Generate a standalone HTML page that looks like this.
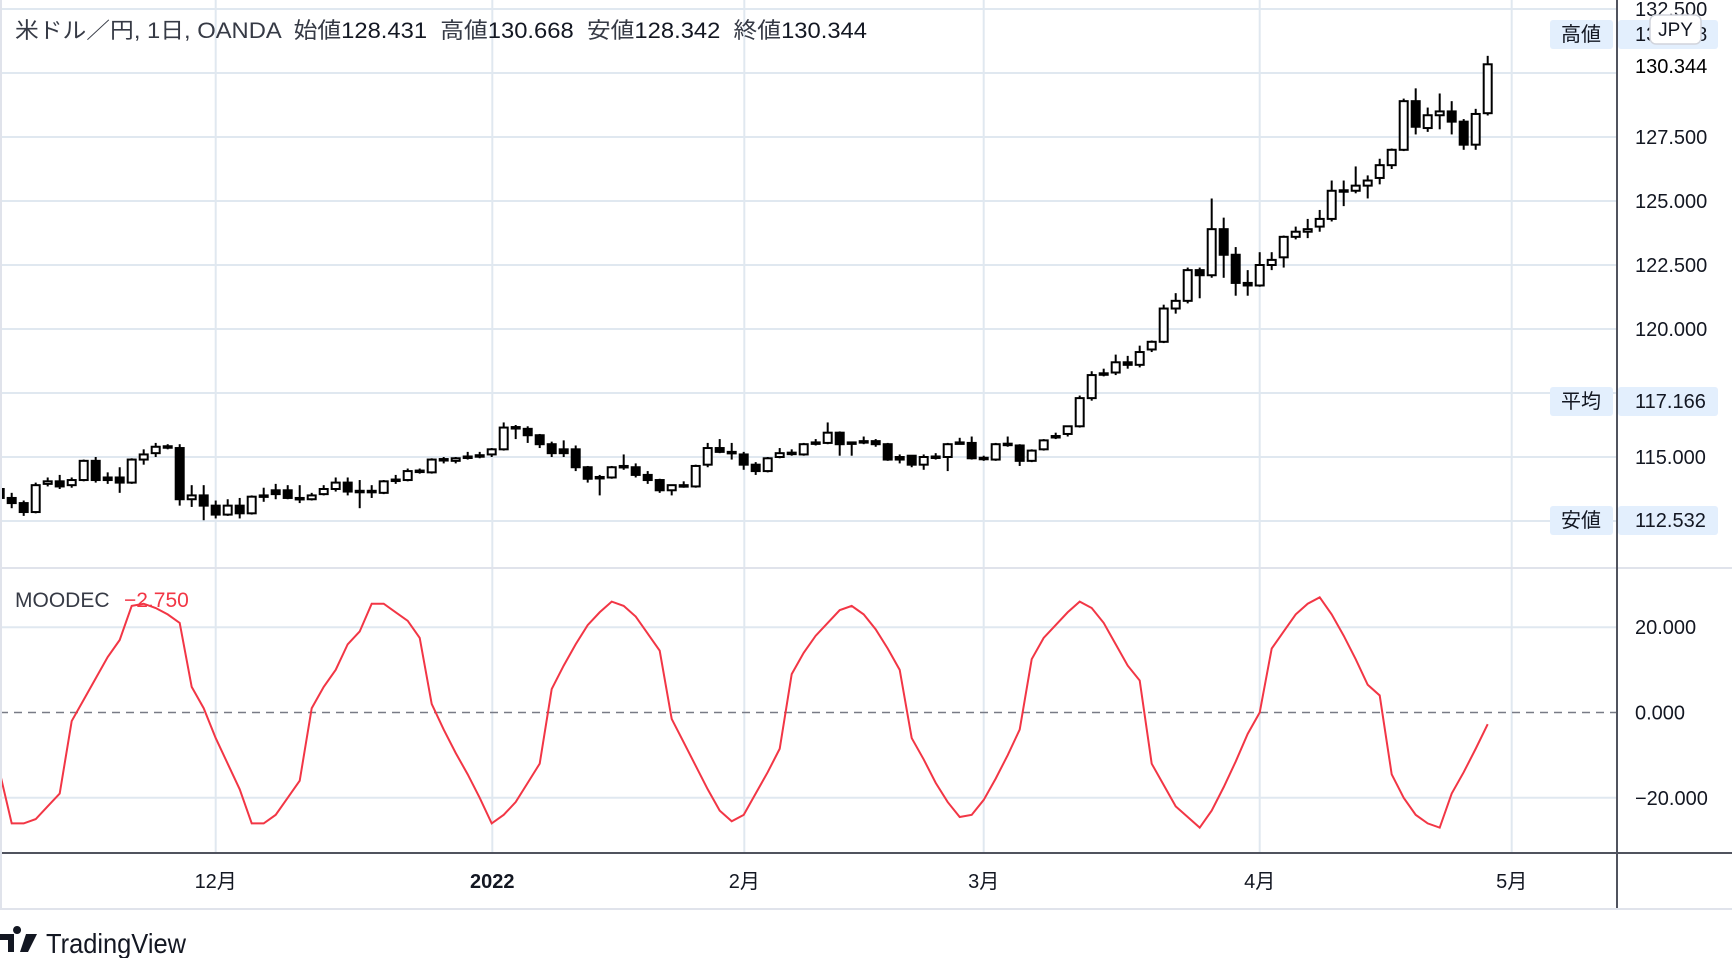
<!DOCTYPE html>
<html><head><meta charset="utf-8"><style>
html,body{margin:0;padding:0;background:#fff;}
svg{display:block;font-family:"Liberation Sans","Noto Sans CJK JP",sans-serif;}
</style></head><body>
<svg id="chart" width="1732" height="958" viewBox="0 0 1732 958" xmlns="http://www.w3.org/2000/svg">
<g id="grid"></g>
<g id="candles"></g>
<g id="ind"></g>
<g id="axes"></g>
<text x="15" y="38" font-size="22" fill="#131722" style="white-space:pre" textLength="852" lengthAdjust="spacingAndGlyphs"><tspan fill="#363a45">米ドル／円, 1日, OANDA  始値</tspan>128.431  <tspan fill="#363a45">高値</tspan>130.668  <tspan fill="#363a45">安値</tspan>128.342  <tspan fill="#363a45">終値</tspan>130.344</text>
<text x="15" y="607" font-size="21" fill="#363a45">MOODEC</text>
<text x="124" y="607" font-size="21" fill="#f23645">−2.750</text>
<g>
<path d="M0 934h14v18h-6v-12H0z M17 934a4 4 0 1 1 0.1 0z M26 934h11l-9 18h-8z" fill="#131722"/>
<text x="46" y="953" font-size="28" fill="#131722" textLength="140" lengthAdjust="spacingAndGlyphs">TradingView</text>
</g>
</svg>
<script>
const opens=[113.75,113.4,113.2,112.85,113.95,114.05,113.9,114.1,114.85,114.2,114.2,114.0,114.9,115.15,115.42,115.35,113.35,113.5,113.1,112.75,113.1,112.8,113.5,113.7,113.7,113.4,113.35,113.55,113.75,114.0,113.68,113.68,113.6,114.12,114.1,114.47,114.4,114.92,114.85,114.97,115.05,115.1,115.3,116.17,116.1,115.85,115.5,115.3,115.3,114.6,114.22,114.2,114.65,114.6,114.3,114.1,113.7,113.9,113.85,114.7,115.35,115.2,115.1,114.7,114.45,115.0,115.17,115.1,115.57,115.55,115.95,115.57,115.62,115.62,115.5,115.0,115.05,114.7,115.02,115.0,115.57,115.55,114.97,114.9,115.52,115.45,114.85,115.3,115.78,115.9,116.2,117.3,118.27,118.3,118.7,118.6,119.2,119.5,120.8,121.1,122.3,122.1,123.9,122.9,121.8,121.7,122.5,122.8,123.6,123.8,124.0,124.3,125.42,125.4,125.6,125.9,126.4,127.0,128.9,127.85,128.35,128.5,128.1,127.2,128.43];
const closes=[113.4,113.2,112.85,113.9,114.05,113.85,114.1,114.85,114.1,114.1,114.0,114.9,115.1,115.4,115.38,113.35,113.5,113.1,112.75,113.1,112.8,113.45,113.45,113.55,113.4,113.35,113.5,113.75,114.0,113.65,113.65,113.62,114.05,114.1,114.45,114.45,114.9,114.9,114.95,115.02,115.07,115.3,116.15,116.15,115.85,115.5,115.15,115.15,114.6,114.15,114.2,114.6,114.62,114.3,114.1,113.7,113.9,113.85,114.65,115.35,115.2,115.15,114.7,114.45,114.95,115.15,115.15,115.5,115.55,115.95,115.5,115.55,115.6,115.5,114.9,114.9,114.7,115.0,115.0,115.5,115.55,114.95,114.95,115.5,115.5,114.85,115.25,115.65,115.82,116.2,117.3,118.2,118.25,118.7,118.6,119.1,119.5,120.8,121.1,122.3,122.1,123.9,122.9,121.8,121.7,122.5,122.7,123.6,123.8,123.9,124.3,125.4,125.4,125.6,125.8,126.4,127.0,128.9,127.9,128.35,128.5,128.1,127.2,128.4,130.34];
const highs=[113.9,113.6,113.3,114.0,114.2,114.3,114.2,114.9,115.0,114.4,114.6,114.95,115.3,115.55,115.5,115.5,113.9,113.9,113.3,113.35,113.4,113.5,113.8,113.95,113.9,113.9,113.6,113.9,114.2,114.2,114.1,113.9,114.1,114.3,114.55,114.55,114.95,115.0,115.0,115.2,115.2,115.35,116.35,116.25,116.2,115.9,115.6,115.65,115.45,114.65,114.3,114.65,115.1,114.75,114.45,114.15,113.9,114.05,114.7,115.55,115.7,115.55,115.2,114.8,115.0,115.35,115.3,115.55,115.7,116.35,116.0,115.6,115.8,115.7,115.55,115.1,115.05,115.1,115.15,115.55,115.75,115.8,115.05,115.55,115.8,115.5,115.3,115.7,115.95,116.2,117.4,118.35,118.45,119.0,118.95,119.35,119.55,120.95,121.4,122.4,122.4,125.1,124.35,123.2,122.3,123.0,123.0,123.65,124.0,124.3,124.65,125.8,125.8,126.35,126.0,126.65,127.05,129.0,129.4,128.65,129.2,128.9,128.2,128.6,130.67];
const lows=[113.3,113.0,112.7,112.8,113.85,113.75,113.8,114.05,114.0,113.95,113.6,113.95,114.7,115.0,115.3,113.1,113.05,112.53,112.6,112.7,112.6,112.75,113.25,113.35,113.35,113.2,113.3,113.5,113.65,113.5,113.0,113.4,113.55,113.95,114.05,114.35,114.35,114.75,114.75,114.9,114.95,115.0,115.25,115.7,115.55,115.35,115.0,115.0,114.45,114.0,113.5,114.15,114.5,114.2,113.95,113.6,113.5,113.8,113.8,114.6,115.15,114.9,114.5,114.3,114.4,114.95,115.05,115.05,115.45,115.5,115.05,115.05,115.5,115.4,114.85,114.75,114.6,114.5,114.9,114.45,115.5,114.9,114.85,114.85,115.4,114.65,114.8,115.25,115.7,115.8,116.15,117.2,118.15,118.2,118.45,118.5,119.1,119.45,120.6,121.0,121.2,122.0,122.0,121.3,121.3,121.65,122.3,122.4,123.5,123.55,123.8,124.2,124.8,125.3,125.1,125.65,126.25,126.95,127.6,127.7,127.8,127.6,127.0,127.0,128.34];
const moodec=[-14,-26,-26,-25,-22,-19,-2,3,8,13,17,25,25.5,24.5,23,21,6,1,-6,-12,-18,-26,-26,-24,-20,-16,1,6,10,16,19,25.5,25.5,23.5,21.5,17.5,2,-4,-9.5,-14.5,-20,-26,-24,-21,-16.5,-12,5.5,11,16,20.5,23.5,26,25,22.5,18.5,14.5,-1.5,-7,-12.5,-18,-23,-25.5,-24,-19,-14,-8.5,9,14,18,21,24,25,23,19.5,15,10,-6,-11,-16.5,-21,-24.5,-24,-20.5,-15.5,-10,-4,12.5,17.5,20.5,23.5,26,24.5,21,16,11,7.5,-12,-17,-22,-24.5,-27,-23,-17.5,-11.5,-5,0,15,19,23,25.5,27,23,18,12.5,6.5,4,-14.5,-20,-24,-26,-27,-19,-14,-8.5,-2.75];
const priceTicks=[132.5,130,127.5,125,122.5,120,117.5,115,112.5];
const priceTickLabels=["132.500","","127.500","125.000","122.500","120.000","","115.000",""];
const indTicks=[20,0,-20];
const indTickLabels=["20.000","0.000","−20.000"];
const monthLabels=["12月","2022","2月","3月","4月","5月"];
const monthBars=[18,41.05,62.05,82.0,105.0,126.0];

const NS="http://www.w3.org/2000/svg";
const AXX=1617, N=opens.length;
const xBar=i=>1487.7-(N-1-i)*12;
const yP=p=>73+(130-p)*25.6;
const yI=v=>712.5-v*4.265;
function mk(tag,attrs,parent){const e=document.createElementNS(NS,tag);for(const k in attrs)e.setAttribute(k,attrs[k]);parent.appendChild(e);return e;}
const grid=document.getElementById('grid'),cg=document.getElementById('candles'),ig=document.getElementById('ind'),ax=document.getElementById('axes');
const GC="#e0e8f0";
priceTicks.forEach(p=>{const l=mk('line',{x1:0,x2:AXX,y1:yP(p),y2:yP(p),stroke:GC,'stroke-width':2},grid);

});
indTicks.forEach((v,k)=>{if(v===0)return;const l=mk('line',{x1:0,x2:AXX,y1:yI(v),y2:yI(v),stroke:GC,'stroke-width':2},grid);

});
monthBars.forEach(b=>{const x=xBar(b);const l=mk('line',{x1:x,x2:x,y1:0,y2:853,stroke:GC,'stroke-width':2},grid);

});
let s=mk('line',{x1:0,x2:1732,y1:568,y2:568,stroke:"#e0e3eb",'stroke-width':2},grid);


for(let i=0;i<N;i++){
 const x=xBar(i),o=opens[i],c=closes[i],bull=c>=o;
 const g=mk('g',{},cg);
 
 
 mk('line',{x1:x,x2:x,y1:yP(highs[i]),y2:yP(lows[i]),stroke:"#000",'stroke-width':2},g);
 const top=yP(Math.max(o,c)),bot=yP(Math.min(o,c));
 mk('rect',{x:x-4,y:top,width:8,height:Math.max(bot-top,1.5),fill:bull?"#fff":"#000",stroke:"#000",'stroke-width':2},g);
}
const z=mk('line',{x1:0,x2:AXX,y1:yI(0),y2:yI(0),stroke:"#787b86",'stroke-width':1.5,'stroke-dasharray':'8 6'},ig);


const pl=mk('polyline',{points:moodec.map((v,i)=>xBar(i)+','+yI(v)).join(' '),fill:'none',stroke:'#f23645','stroke-width':2},ig);


let a=mk('line',{x1:AXX,x2:AXX,y1:0,y2:909,stroke:"#50535e",'stroke-width':2},ax);


a=mk('line',{x1:0,x2:1732,y1:853,y2:853,stroke:"#50535e",'stroke-width':2},ax);


a=mk('line',{x1:0,x2:1732,y1:909,y2:909,stroke:"#e0e3eb",'stroke-width':2},ax);


a=mk('line',{x1:1,x2:1,y1:0,y2:909,stroke:"#e0e3eb",'stroke-width':2},ax);


priceTicks.forEach((p,k)=>{if(!priceTickLabels[k])return;const t=mk('text',{x:1635,y:yP(p)+7,'font-size':20,fill:'#131722'},ax);t.textContent=priceTickLabels[k];

});
indTicks.forEach((v,k)=>{const t=mk('text',{x:1635,y:yI(v)+7,'font-size':20,fill:'#131722'},ax);t.textContent=indTickLabels[k];

});
monthLabels.forEach((m,k)=>{const t=mk('text',{x:xBar(monthBars[k]),y:888,'font-size':20,fill:'#131722','text-anchor':'middle','font-weight':m==='2022'?'bold':'normal'},ax);t.textContent=m;

});
function stat(label,val,yc,name){
 const g=mk('g',{},ax);
 
 
 mk('rect',{x:1550,y:yc-14,width:63,height:29,rx:3,fill:'#e3effd'},g);
 mk('rect',{x:1618,y:yc-14,width:100,height:29,rx:3,fill:'#e3effd'},g);
 let t=mk('text',{x:1581,y:yc+7,'font-size':20,fill:'#131722','text-anchor':'middle'},g);t.textContent=label;
 t=mk('text',{x:1635,y:yc+7,'font-size':20,fill:'#131722'},g);t.textContent=val;
}
stat('高値','130.668',34,'high-label');
stat('平均','117.166',401,'average-label');
stat('安値','112.532',520,'low-label');
const lr=mk('rect',{x:1620,y:52,width:96,height:28,fill:'#fff'},ax);


const lt=mk('text',{x:1635,y:73,'font-size':20,fill:'#000'},ax);lt.textContent='130.344';


const jb=mk('g',{},ax);


mk('rect',{x:1650,y:15,width:51,height:29,rx:6,fill:'#fff',stroke:'#d1d4dc','stroke-width':1.5},jb);
const jt=mk('text',{x:1675.5,y:36,'font-size':19,fill:'#131722','text-anchor':'middle'},jb);jt.textContent='JPY';
</script>
</body></html>
